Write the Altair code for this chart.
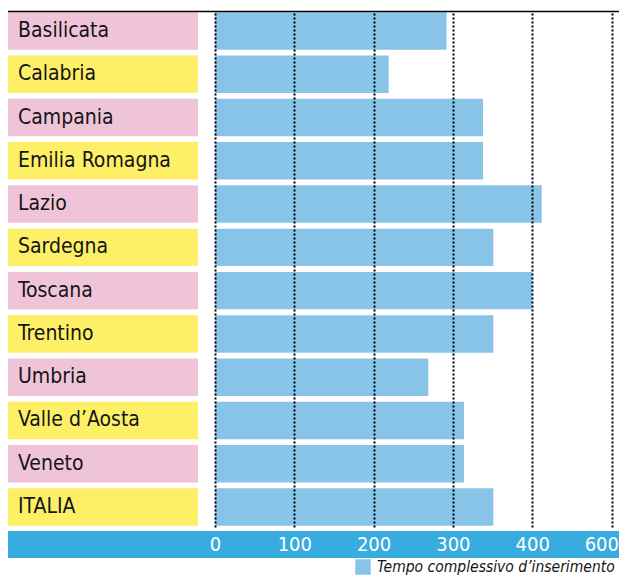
import altair as alt
import pandas as pd

# ---- data ----
regions = ["Basilicata", "Calabria", "Campania", "Emilia Romagna", "Lazio", "Sardegna",
           "Toscana", "Trentino", "Umbria", "Valle d’Aosta", "Veneto", "ITALIA"]
values = [292, 219, 338, 338, 412, 351, 400, 351, 269, 314, 314, 351]
tick_values = [0, 100, 200, 300, 400, 500]
tick_labels = ["0", "100", "200", "300", "400", "600"]
series_name = "Tempo complessivo d’inserimento"

# ---- styles ----
FONT = "DejaVu Sans Condensed, Liberation Sans Narrow, DejaVu Sans, sans-serif"
PINK = "#f0c4d8"
YELLOW = "#fdef66"
BAR = "#88c4e7"
BAND = "#39acdf"
W, H = 611, 516
PX_PER_UNIT = 0.793
ZERO_PX = 207
X_DOMAIN = [-ZERO_PX / PX_PER_UNIT, (W - ZERO_PX) / PX_PER_UNIT]

df = pd.DataFrame({"region": regions, "value": values})
df["shade"] = ["a" if i % 2 == 0 else "b" for i in range(len(regions))]
df["series"] = series_name

label_expr = ""
for v, l in zip(tick_values, tick_labels):
    label_expr += f"datum.value == {v} ? '{l}' : "
label_expr += "datum.label"
last = tick_values[-1]

yenc = alt.Y("region:N", sort=regions,
             scale=alt.Scale(paddingInner=0.134, paddingOuter=0.03), axis=None)

base = alt.Chart(df)

boxes = base.mark_rect().encode(
    x=alt.value(0), x2=alt.value(190), y=yenc,
    fill=alt.Fill("shade:N", scale=alt.Scale(domain=["a", "b"], range=[PINK, YELLOW]), legend=None),
)

names = base.mark_text(align="left", baseline="middle", font=FONT, fontSize=21, color="#151515").encode(
    x=alt.value(10), y=yenc, text="region:N"
)

bars = base.mark_bar().encode(
    x=alt.X("value:Q",
            scale=alt.Scale(domain=X_DOMAIN, nice=False, zero=False),
            axis=alt.Axis(values=tick_values, grid=True, gridDash=[2, 2], gridColor="#000000",
                          gridWidth=2, gridOpacity=1, domain=False, ticks=False, tickSize=0,
                          labelExpr=label_expr, labelColor="white", labelFont=FONT,
                          labelFontSize=20, labelPadding=17, labelBaseline="middle",
                          labelAlign={"condition": {"test": f"datum.value == {last}", "value": "right"},
                                      "value": "center"},
                          labelOffset={"condition": {"test": f"datum.value == {last}", "value": 7},
                                       "value": 0},
                          labelOverlap=False, labelBound=False,
                          title=None, zindex=1)),
    y=yenc,
    color=alt.Color("series:N", scale=alt.Scale(domain=[series_name], range=[BAR]),
                    legend=alt.Legend(orient="none", legendX=347, legendY=548, title=None,
                                      symbolType="square", symbolSize=240, symbolStrokeWidth=0,
                                      symbolOpacity=1, labelFont=FONT, labelFontSize=15.5,
                                      labelFontStyle="italic", labelColor="#151515",
                                      labelOffset=6, labelLimit=0, padding=0)),
)

one = alt.Chart(pd.DataFrame({"k": [0]}))
band = one.mark_rect(color=BAND).encode(
    x=alt.value(0), x2=alt.value(W), y=alt.value(520), y2=alt.value(547)
)
topline = one.mark_rule(color="#000000", strokeWidth=1.6).encode(
    x=alt.value(0), x2=alt.value(W), y=alt.value(0.5)
)

chart = alt.layer(band, boxes, bars, names, topline).resolve_scale(
    fill="independent", color="independent"
).properties(
    width=W, height=H,
    autosize=alt.AutoSizeParams(type="none"),
    padding={"left": 0, "top": 3, "right": 0, "bottom": 48},
).configure_view(stroke=None)

chart.save("out.html", embed_options={"renderer": "svg", "actions": False})
